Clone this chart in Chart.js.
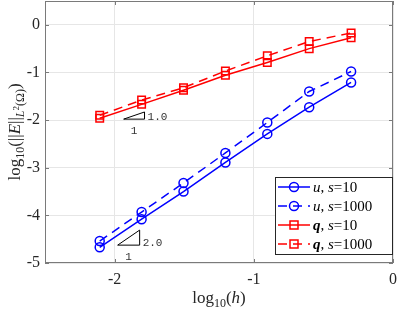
<!DOCTYPE html>
<html>
<head>
<meta charset="utf-8">
<script src="https://cdn.jsdelivr.net/npm/chart.js@4"></script>
<style>
  html, body { margin: 0; padding: 0; background: #fff; }
  #wrap { width: 399px; height: 313px; }
</style>
</head>
<body>
<div id="wrap"><canvas id="myChart"></canvas></div>
<script>
// log10(h) for h = 1/2 ... 1/128
const logH = [-2.107, -1.806, -1.505, -1.204, -0.903, -0.602, -0.301]

// log10 of the L2 error
const uS10 = [-4.67, -4.08, -3.50, -2.89, -2.29, -1.73, -1.21]
const uS1000 = [-4.54, -3.93, -3.32, -2.69, -2.05, -1.40, -0.98]
const qS10 = [-1.96, -1.67, -1.375, -1.06, -0.79, -0.50, -0.27]
const qS1000 = [-1.90, -1.58, -1.32, -0.97, -0.65, -0.35, -0.17]

const xTicks = [-2, -1, 0]
const yTicks = [-5, -4, -3, -2, -1, 0]

// slope triangles: [x0, y0, run, rate label]
const slopeQ = [-1.935, -1.98, 0.15, 1.0]
const slopeU = [-1.978, -4.625, 0.158, 2.0]

const serif = '"Liberation Serif", "DejaVu Serif", serif'
const axisColor = '#262626'
const boxColor = '#7a7a7a'

function pts(ys) {
    return ys.map((y, i) => ({ x: logH[i], y: y }))
}

// draws a list of text pieces [text, font, dy] one after another
function drawPieces(ctx, pieces, x, y) {
    let w = 0
    pieces.forEach(p => { ctx.font = p[1]; w += ctx.measureText(p[0]).width })
    let cx = x - w / 2
    ctx.textAlign = 'left'
    ctx.textBaseline = 'alphabetic'
    pieces.forEach(p => {
        ctx.font = p[1]
        ctx.fillText(p[0], cx, y + (p[2] || 0))
        cx += ctx.measureText(p[0]).width
    })
}

const extras = {
    id: 'extras',
    afterDraw(chart) {
        const ctx = chart.ctx
        const a = chart.chartArea
        const xs = chart.scales.x
        const ys = chart.scales.y
        ctx.save()

        // box and ticks inside
        ctx.strokeStyle = boxColor
        ctx.lineWidth = 1
        ctx.strokeRect(a.left + 0.5, a.top + 0.5, a.right - a.left - 1, a.bottom - a.top - 1)
        ctx.beginPath()
        xTicks.forEach(t => {
            const px = Math.round(xs.getPixelForValue(t)) + 0.5
            ctx.moveTo(px, a.bottom); ctx.lineTo(px, a.bottom - 4)
            ctx.moveTo(px, a.top); ctx.lineTo(px, a.top + 4)
        })
        yTicks.forEach(t => {
            const py = Math.round(ys.getPixelForValue(t)) + 0.5
            ctx.moveTo(a.left, py); ctx.lineTo(a.left + 4, py)
            ctx.moveTo(a.right, py); ctx.lineTo(a.right - 4, py)
        })
        ctx.stroke()

        // slope triangles
        ;[slopeQ, slopeU].forEach(s => {
            const x0 = xs.getPixelForValue(s[0])
            const x1 = xs.getPixelForValue(s[0] + s[2])
            const y0 = ys.getPixelForValue(s[1])
            const y1 = ys.getPixelForValue(s[1] + s[2] * s[3])
            ctx.strokeStyle = '#000'
            ctx.beginPath()
            ctx.moveTo(x0, y0); ctx.lineTo(x1, y0); ctx.lineTo(x1, y1); ctx.closePath()
            ctx.stroke()
            ctx.fillStyle = '#333'
            ctx.font = '11px "Liberation Mono", "DejaVu Sans Mono", monospace'
            ctx.textAlign = 'left'
            ctx.textBaseline = 'middle'
            ctx.fillText(s[3].toFixed(1), x1 + 3, y0 - 2)
            ctx.textAlign = 'center'
            ctx.fillText('1', (x0 + x1) / 2, y0 + 12)
        })

        // axis titles
        ctx.fillStyle = axisColor
        drawPieces(ctx, [
            ['log', '17px ' + serif],
            ['10', '12px ' + serif, 4],
            ['(', '17px ' + serif],
            ['h', 'italic 17px ' + serif],
            [')', '17px ' + serif]
        ], (a.left + a.right) / 2, 303)

        ctx.save()
        ctx.translate(15, (a.top + a.bottom) / 2)
        ctx.rotate(-Math.PI / 2)
        drawPieces(ctx, [
            ['log', '17px ' + serif],
            ['10', '12px ' + serif, 4],
            ['(||', '17px ' + serif],
            ['E', 'italic 17px ' + serif],
            ['||', '17px ' + serif],
            ['L', 'italic 12px ' + serif, 4],
            ['2', '9px ' + serif, -1],
            ['(\u03A9)', '12px ' + serif, 4],
            [')', '17px ' + serif]
        ], 0, 5)
        ctx.restore()

        // legend
        const lx = 275, ly = 177, lw = 118, lh = 78
        ctx.fillStyle = '#fff'
        ctx.fillRect(lx, ly, lw, lh)
        ctx.strokeStyle = axisColor
        ctx.strokeRect(lx + 0.5, ly + 0.5, lw - 1, lh - 1)
        const names = [['u', 'italic 15px ', '10'], ['u', 'italic 15px ', '1000'],
                       ['q', 'bold italic 15px ', '10'], ['q', 'bold italic 15px ', '1000']]
        chart.data.datasets.forEach((ds, i) => {
            const ry = ly + 10 + i * 19
            ctx.strokeStyle = ds.borderColor
            ctx.lineWidth = 1.5
            ctx.setLineDash(ds.borderDash || [])
            ctx.beginPath()
            ctx.moveTo(lx + 3, ry); ctx.lineTo(lx + 35, ry)
            ctx.stroke()
            ctx.setLineDash([])
            if (ds.pointStyle === 'circle') {
                ctx.beginPath(); ctx.arc(lx + 19, ry, 4.5, 0, Math.PI * 2); ctx.stroke()
            } else {
                ctx.strokeRect(lx + 15, ry - 4, 8, 8)
            }
            ctx.fillStyle = '#000'
            const n = names[i]
            let tx = lx + 38
            ctx.textAlign = 'left'
            ctx.textBaseline = 'middle'
            const parts = [[n[0], n[1] + serif], [', ', '15px ' + serif], ['s', 'italic 15px ' + serif], ['=' + n[2], '15px ' + serif]]
            parts.forEach(p => {
                ctx.font = p[1]
                ctx.fillText(p[0], tx, ry + 1)
                tx += ctx.measureText(p[0]).width
            })
        })
        ctx.restore()
    }
}

function series(label, ys, color, dashed, marker) {
    return {
        label: label,
        data: pts(ys),
        borderColor: color,
        backgroundColor: 'rgba(0,0,0,0)',
        borderWidth: 1.5,
        borderDash: dashed ? [9, 6] : [],
        pointStyle: marker,
        pointRadius: marker === 'circle' ? 4.5 : 5.3,
        pointBorderWidth: 1.5,
        pointBorderColor: color,
        pointBackgroundColor: 'rgba(0,0,0,0)',
        fill: false,
        tension: 0
    }
}

const ctx = document.getElementById('myChart')
new Chart(ctx, {
    type: 'line',
    data: {
        datasets: [
            series('u, s=10', uS10, '#0000ff', false, 'circle'),
            series('u, s=1000', uS1000, '#0000ff', true, 'circle'),
            series('q, s=10', qS10, '#ff0000', false, 'rect'),
            series('q, s=1000', qS1000, '#ff0000', true, 'rect')
        ]
    },
    options: {
        responsive: true,
        maintainAspectRatio: false,
        animation: false,
        layout: { autoPadding: false, padding: { left: 0, right: 6, top: 1, bottom: 0 } },
        plugins: { legend: { display: false }, tooltip: { enabled: false } },
        scales: {
            x: {
                type: 'linear',
                min: -2.5,
                max: 0,
                afterBuildTicks: s => { s.ticks = xTicks.map(v => ({ value: v })) },
                afterFit: s => { s.height = 50; s.paddingLeft = 0; s.paddingRight = 0 },
                ticks: { color: axisColor, padding: 7, maxRotation: 0, font: { family: serif, size: 16 }, callback: v => String(v) },
                grid: { color: '#e6e6e6', drawTicks: false },
                border: { display: false }
            },
            y: {
                min: -5,
                max: 0.5,
                afterBuildTicks: s => { s.ticks = yTicks.map(v => ({ value: v })) },
                afterFit: s => { s.width = 45; s.paddingTop = 0; s.paddingBottom = 0 },
                ticks: { color: axisColor, padding: 5, font: { family: serif, size: 16 }, callback: v => String(v) },
                grid: { color: '#e6e6e6', drawTicks: false },
                border: { display: false }
            }
        }
    },
    plugins: [extras]
});
</script>
</body>
</html>
